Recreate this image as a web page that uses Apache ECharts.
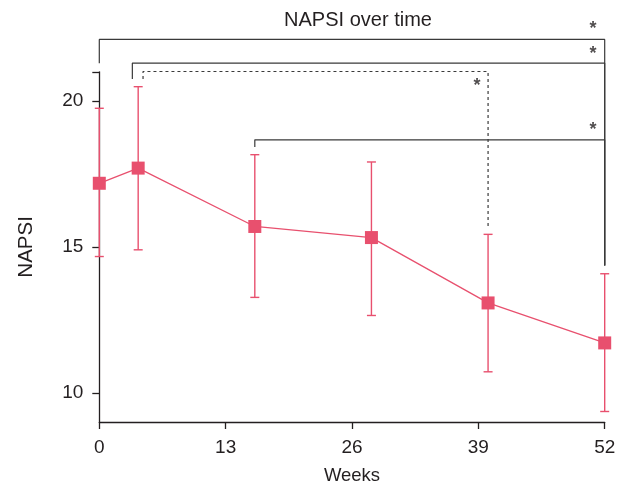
<!DOCTYPE html>
<html><head><meta charset="utf-8">
<script src="https://cdn.jsdelivr.net/npm/echarts@6/dist/echarts.min.js"></script>
<style>html,body{margin:0;padding:0;background:#fff}#c{width:630px;height:490px}</style>
</head><body><div id="c"></div>
<script>
const weeks = [0, 4, 16, 28, 40, 52];
const napsiMean = [17.18, 17.70, 15.70, 15.32, 13.08, 11.71];
const napsiLow = [14.67, 14.90, 13.27, 12.65, 10.72, 9.36];
const napsiHigh = [19.75, 20.49, 18.16, 17.91, 15.43, 14.08];
const xTicks = [0, 13, 26, 39, 52];
const yTicks = [10, 15, 20];
const yExtraTick = [21];
// significance brackets
const bracketFrom = [0, 3.4, 16, 4.5];
const bracketTo = [52, 52, 52, 40];
const bracketTop = [22.11, 21.30, 18.67, 21.01];
const bracketLeftEnd = [21.29, 20.75, 18.42, 20.75];
const bracketRightEnd = [14.36, 14.36, 14.36, 15.70];
const bracketDashed = [false, false, false, true];
const starWeek = [50.8, 50.8, 50.8, 38.86];
const starValue = [22.57, 21.72, 19.12, 20.63];

const FONT = 'Liberation Sans, Arial, Helvetica, sans-serif';
const RED = '#E8506E';
const DARK = '#231F20';

const chart = echarts.init(document.getElementById('c'), null, {renderer: 'canvas'});

const bracketSeries = bracketFrom.map((f, i) => ({
  type: 'line',
  silent: true,
  clip: false,
  symbol: 'none',
  z: 1,
  lineStyle: {color: '#3a3a3a', width: 1.2, type: bracketDashed[i] ? [3, 3] : 'solid'},
  data: [[f, bracketLeftEnd[i]], [f, bracketTop[i]], [bracketTo[i], bracketTop[i]], [bracketTo[i], bracketRightEnd[i]]]
}));

const option = {
  animation: false,
  backgroundColor: '#fff',
  title: {
    text: 'NAPSI over time',
    left: 353,
    top: 5,
    textAlign: 'center',
    textStyle: {fontFamily: FONT, fontSize: 20, fontWeight: 'normal', color: DARK}
  },
  grid: {left: 99.3, right: 25.3, top: 71.8, bottom: 67.4, containLabel: false},
  xAxis: {
    type: 'value', min: 0, max: 52, interval: 13,
    name: 'Weeks', nameLocation: 'middle', nameGap: 44,
    nameTextStyle: {fontFamily: FONT, fontSize: 18.5, color: DARK},
    axisLine: {show: true, lineStyle: {color: DARK, width: 1.3}},
    axisTick: {show: true, length: 7, lineStyle: {color: DARK, width: 1.3}},
    axisLabel: {fontFamily: FONT, fontSize: 19, color: DARK, margin: 16, customValues: xTicks},
    splitLine: {show: false}
  },
  yAxis: {
    type: 'value', min: 9, max: 21, interval: 1,
    name: 'NAPSI', nameLocation: 'middle', nameGap: 62,
    nameTextStyle: {fontFamily: FONT, fontSize: 20.5, color: DARK},
    axisLine: {show: true, lineStyle: {color: DARK, width: 1.3}},
    axisTick: {show: true, length: 7, lineStyle: {color: DARK, width: 1.3}, customValues: yTicks.concat(yExtraTick)},
    axisLabel: {fontFamily: FONT, fontSize: 19, color: DARK, margin: 16, customValues: yTicks},
    splitLine: {show: false}
  },
  series: bracketSeries.concat([
    {
      type: 'custom',
      silent: true,
      z: 3,
      clip: false,
      data: weeks.map((w, i) => [w, napsiLow[i], napsiHigh[i]]),
      renderItem: function (params, api) {
        const lo = api.coord([api.value(0), api.value(1)]);
        const hi = api.coord([api.value(0), api.value(2)]);
        const hw = 4.5;
        const st = {stroke: RED, lineWidth: 1.4};
        return {type: 'group', children: [
          {type: 'line', shape: {x1: lo[0], y1: lo[1], x2: hi[0], y2: hi[1]}, style: st},
          {type: 'line', shape: {x1: lo[0] - hw, y1: lo[1], x2: lo[0] + hw, y2: lo[1]}, style: st},
          {type: 'line', shape: {x1: hi[0] - hw, y1: hi[1], x2: hi[0] + hw, y2: hi[1]}, style: st}
        ]};
      }
    },
    {
      type: 'line',
      silent: true,
      z: 4,
      clip: false,
      data: weeks.map((w, i) => [w, napsiMean[i]]),
      symbol: 'rect',
      symbolSize: 13,
      showAllSymbol: true,
      lineStyle: {color: RED, width: 1.3},
      itemStyle: {color: RED}
    },
    {
      type: 'scatter',
      silent: true,
      clip: false,
      z: 5,
      symbol: 'circle',
      symbolSize: 0,
      data: starWeek.map((w, i) => [w, starValue[i]]),
      label: {
        show: true, position: 'inside', formatter: '*',
        fontFamily: FONT, fontSize: 18, fontWeight: 'bold', color: DARK, offset: [0, 3]
      }
    }
  ])
};
chart.setOption(option);
</script>
</body></html>
